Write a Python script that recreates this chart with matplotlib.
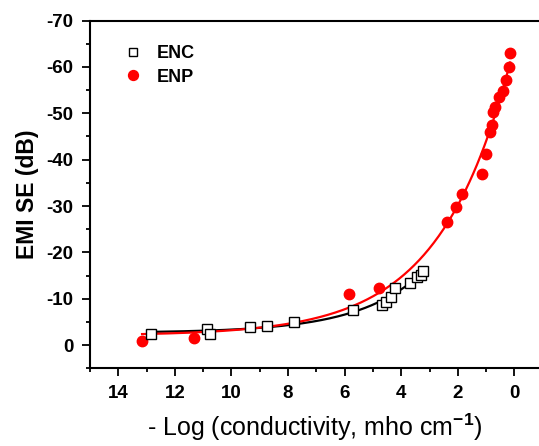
import numpy as np
import matplotlib.pyplot as plt
from matplotlib.ticker import MultipleLocator

plt.rcParams['font.family'] = ['Liberation Sans', 'DejaVu Sans']
plt.rcParams['mathtext.fontset'] = 'custom'
plt.rcParams['mathtext.rm'] = 'Liberation Sans'
plt.rcParams['mathtext.bf'] = 'Liberation Sans:bold'
plt.rcParams['axes.unicode_minus'] = False

# -log(conductivity) vs EMI SE for the two composites
enc_x = [12.84, 10.87, 10.75, 9.35, 8.75, 7.78, 5.69, 4.69, 4.54, 4.35, 4.21, 3.69, 3.43, 3.31, 3.22]
enc_y = [-2.4, -3.6, -2.5, -3.85, -4.2, -4.9, -7.5, -8.7, -9.35, -10.5, -12.3, -13.5, -14.6, -15.2, -16.0]

enp_x = [13.16, 11.33, 5.84, 4.79, 2.38, 2.08, 1.84, 1.13, 1.00, 0.87, 0.80,
         0.74, 0.67, 0.55, 0.39, 0.28, 0.19, 0.15]
enp_y = [-1.0, -1.65, -11.0, -12.3, -26.6, -29.7, -32.6, -36.9, -41.3, -46.0, -47.5,
         -50.3, -51.3, -53.6, -54.9, -57.2, -60.0, -63.0]


def expdec_fit(x, y):
    """y = y0 + A*exp(-x/t), brute force on t, linear least squares for y0, A"""
    x = np.asarray(x)
    y = np.asarray(y)
    best = None
    for t in np.arange(0.3, 15, 0.01):
        M = np.column_stack([np.ones_like(x), np.exp(-x / t)])
        coef, res, _, _ = np.linalg.lstsq(M, y, rcond=None)
        err = np.sum((M @ coef - y) ** 2)
        if best is None or err < best[0]:
            best = (err, coef[0], coef[1], t)
    _, y0, a, t = best
    return lambda xx: y0 + a * np.exp(-xx / t)


fig = plt.figure(figsize=(5.39, 4.46), dpi=100)
ax = fig.add_axes([0.167, 0.174, 0.833, 0.78])

f_enc = expdec_fit(enc_x, enc_y)
f_enp = expdec_fit(enp_x, enp_y)
xx = np.linspace(min(enc_x), max(enc_x), 300)
ax.plot(xx, f_enc(xx), color='black', lw=1.6, zorder=2)
xx = np.linspace(min(enp_x), max(enp_x), 300)
ax.plot(xx, f_enp(xx), color='red', lw=1.6, zorder=2)

ax.plot(enp_x, enp_y, 'o', color='red', ms=7.5, mec='red', zorder=3, label='ENP')
ax.plot(enc_x, enc_y, 's', color='white', ms=6.5, mec='black', mew=1.0, zorder=4, label='ENC')

ax.set_xlim(15, -0.87)
ax.set_ylim(5, -70)
ax.xaxis.set_major_locator(MultipleLocator(2))
ax.xaxis.set_minor_locator(MultipleLocator(1))
ax.yaxis.set_major_locator(MultipleLocator(10))
ax.yaxis.set_minor_locator(MultipleLocator(5))
ax.tick_params(which='major', direction='out', length=6, width=1.3, pad=6, labelsize=13.5)
ax.tick_params(which='minor', direction='out', length=3, width=1.3)
for lab in ax.get_xticklabels() + ax.get_yticklabels():
    lab.set_fontweight('bold')

for s in ['left', 'bottom', 'top']:
    ax.spines[s].set_linewidth(1.5)
ax.spines['right'].set_visible(False)

ax.set_ylabel('EMI SE (dB)', fontsize=16.5, fontweight='bold', labelpad=5)
ax.set_xlabel(r'- Log (conductivity, mho cm$^{\mathbf{-1}}$)', fontsize=18, labelpad=7)

h, l = ax.get_legend_handles_labels()
ax.legend(h[::-1], l[::-1], loc='upper left', bbox_to_anchor=(0.04, 0.975), frameon=False,
          prop={'weight': 'bold', 'size': 13}, handletextpad=0.8, labelspacing=0.35,
          handlelength=1.0, markerscale=0.95)

fig.savefig('out.png', dpi=100)
